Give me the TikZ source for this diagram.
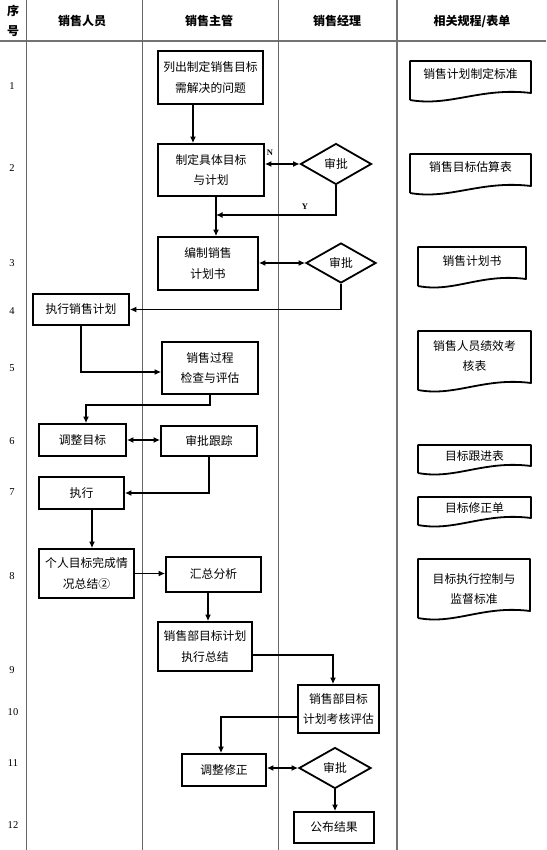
\documentclass[tikz,border=0pt]{standalone}
\usepackage{fontspec}
\setmainfont{Liberation Serif}
\newfontfamily\cjk{Noto Sans CJK SC}
\usetikzlibrary{arrows.meta,shapes.geometric}
\newcommand\docbox[7]{%
  \draw[docline] ({#2},{#5}) -- ({#2},{#3}) -- ({#4},{#3}) -- ({#4},{#5-7})
    .. controls ({#4-0.42*(#4-#2)},{#5-13}) and ({#2+0.33*(#4-#2)},{#5+7}) .. ({#2},{#5});
  \node[doctext] (#1) at ({(#2+#4)/2},{#6}) {#7};
}
\begin{document}
\begin{tikzpicture}[x=1pt,y=-1pt,
  grid/.style={draw=black!60, line width=0.8pt},
  gridthick/.style={draw=black!55, line width=1.6pt},
  box/.style={draw=black, line width=1.8pt, rectangle, inner sep=0pt,
    font=\cjk\fontsize{11.8}{20.5}\selectfont, align=center},
  dia/.style={draw=black, line width=1.8pt, diamond, inner sep=0pt,
    font=\cjk\fontsize{11.8}{20}\selectfont},
  arr/.style={draw=black, line width=1.8pt, -{Latex[length=6.5pt,width=6pt]}},
  darr/.style={draw=black, line width=1.8pt, {Latex[length=6.5pt,width=6pt]}-{Latex[length=6.5pt,width=6pt]}},
  docline/.style={draw=black, line width=1.8pt, line join=round},
  doctext/.style={font=\cjk\fontsize{11.8}{20.5}\selectfont, align=center, inner sep=0pt},
  head/.style={font=\cjk\bfseries\fontsize{12}{14}\selectfont, inner sep=0pt},
  num/.style={font=\fontsize{10.5}{12}\selectfont, inner sep=0pt},
  lbl/.style={font=\bfseries\fontsize{8.5}{9}\selectfont, inner sep=0pt}
]
\useasboundingbox (0,0) rectangle (546,850);
\fill[white] (0,0) rectangle (546,850);
% grid
\draw[gridthick] (0,41) -- (546,41);
\draw[grid] (26,0) -- (26,850);
\draw[grid] (142,0) -- (142,850);
\draw[grid] (278,0) -- (278,850);
\draw[gridthick] (397,0) -- (397,850);
% headers
\node[head] (h0a) at (13,11) {序};
\node[head] (h0b) at (13,31) {号};
\node[head] (h1) at (82,21) {销售人员};
\node[head] (h2) at (209,21) {销售主管};
\node[head] (h3) at (337,21) {销售经理};
\node[head] (h4) at (472,21) {相关规程/表单};
% row numbers
\node[num] (r1) at (12,86) {1};
\node[num] (r2) at (12,168) {2};
\node[num] (r3) at (12,263) {3};
\node[num] (r4) at (12,311) {4};
\node[num] (r5) at (12,368) {5};
\node[num] (r6) at (12,441) {6};
\node[num] (r7) at (12,492) {7};
\node[num] (r8) at (12,576) {8};
\node[num] (r9) at (12,670) {9};
\node[num] (r10) at (13,712) {10};
\node[num] (r11) at (13,763) {11};
\node[num] (r12) at (13,825) {12};
% boxes
\node[box, minimum width=105, minimum height=53] (b1) at (210.5,77.5) {列出制定销售目标\\需解决的问题};
\node[box, minimum width=106, minimum height=52] (b2) at (211,170) {制定具体目标\\与计划};
\node[dia, minimum width=71, minimum height=41] (d1) at (336,164) {审批};
\node[box, minimum width=100, minimum height=53] (b3) at (208,263.5) {编制销售\\计划书};
\node[dia, minimum width=70, minimum height=40] (d2) at (341,263) {审批};
\node[box, minimum width=96, minimum height=31] (b4) at (81,309.5) {执行销售计划};
\node[box, minimum width=96, minimum height=52] (b5) at (210,368) {销售过程\\检查与评估};
\node[box, minimum width=87, minimum height=32] (b6) at (82.5,440) {调整目标};
\node[box, minimum width=96, minimum height=30] (b7) at (209,441) {审批跟踪};
\node[box, minimum width=85, minimum height=32] (b8) at (81.5,493) {执行};
\node[box, minimum width=95, minimum height=49] (b9) at (86.5,573.5) {个人目标完成情\\况总结②};
\node[box, minimum width=95, minimum height=35] (b10) at (213.5,574.5) {汇总分析};
\node[box, minimum width=94, minimum height=49] (b11) at (205,646.5) {销售部目标计划\\执行总结};
\node[box, minimum width=81, minimum height=48] (b12) at (338.5,709) {销售部目标\\计划考核评估};
\node[box, minimum width=84, minimum height=32] (b13) at (224,770) {调整修正};
\node[dia, minimum width=72, minimum height=41] (d3) at (335,768) {审批};
\node[box, minimum width=80, minimum height=31] (b14) at (334,827.5) {公布结果};
% labels
\node[lbl] (ln) at (270,153) {N};
\node[lbl] (ly) at (305,207) {Y};
% junction coordinates
\coordinate (j1) at (216,215);
\coordinate (j2) at (86,405);
\coordinate (j3) at (92,0);
\coordinate (j4) at (208,0);
\coordinate (j5) at (333,655);
\coordinate (j6) at (221,717);
\coordinate (j7) at (193,0);
% connectors
\draw[arr] (b1.south -| j7) -- (b2.north -| j7);
\draw[darr] (b2.east |- d1.west) -- (d1.west);
\draw[arr] (d1.south) |- (j1);
\draw[arr] (b2.south -| j1) -- (b3.north -| j1);
\draw[darr] (b3.east |- d2.west) -- (d2.west);
\draw[arr] (d2.south) |- (b4.east);
\draw[arr] (b4.south) |- ([yshift=-4pt]b5.west);
\draw[arr] (b5.south) |- (j2) -- (j2 |- b6.north);
\draw[darr] (b6.east) -- (b7.west |- b6.east);
\draw[arr] (b7.south) |- (b8.east);
\draw[arr] (b8.south -| j3) -- (b9.north -| j3);
\draw[arr] (b9.east) -- (b10.west |- b9.east);
\draw[arr] (b10.south -| j4) -- (b11.north -| j4);
\draw[arr] (b11.east |- j5) -- (j5) -- (j5 |- b12.north);
\draw[arr] (b12.west |- j6) -- (j6) -- (j6 |- b13.north);
\draw[darr] (b13.east |- d3.west) -- (d3.west);
\draw[arr] (d3.south) -- (d3.south |- b14.north);
% documents
\docbox{f1}{410}{61}{531}{100}{74}{销售计划制定标准}
\docbox{f2}{410}{154}{531}{193}{167}{销售目标估算表}
\docbox{f3}{418}{247}{526}{286}{261}{销售计划书}
\docbox{f4}{418}{331}{531}{390}{356}{销售人员绩效考\\核表}
\docbox{f5}{418}{445}{531}{473}{456}{目标跟进表}
\docbox{f6}{418}{497}{531}{525}{508}{目标修正单}
\docbox{f7}{418}{559}{530}{618}{589}{目标执行控制与\\监督标准}
\end{tikzpicture}
\end{document}
